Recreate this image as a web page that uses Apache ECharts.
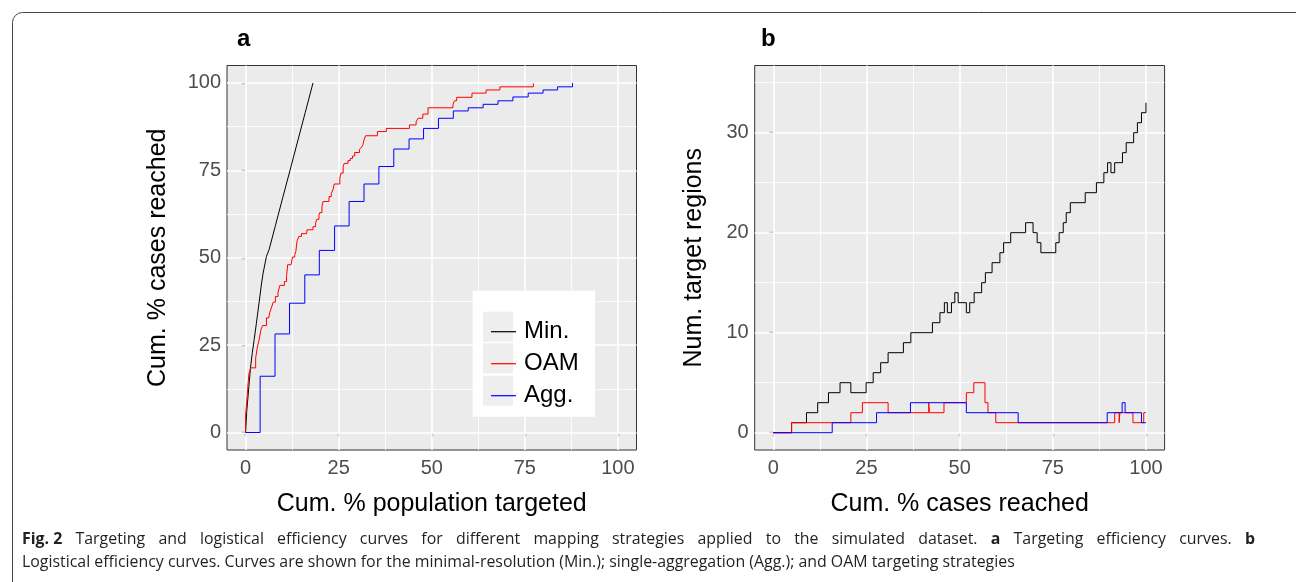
<!DOCTYPE html>
<html><head><meta charset="utf-8">
<script src="https://cdn.jsdelivr.net/npm/echarts@6/dist/echarts.min.js"></script>
<style>html,body{margin:0;padding:0;background:#fff}#c{width:1296px;height:582px}</style>
</head><body><div id="c"></div>
<script>
// ---- data ----
const seriesNames = ['Min.', 'OAM', 'Agg.'];
const seriesColors = ['#000000', '#FF0000', '#0000FF'];
// panel a: targeting efficiency (x: cum. % population targeted, y: cum. % cases reached)
const aMin = [[0,0],[0.3,6],[0.5,8.5],[1.0,14.7],[1.3,18.5],[1.8,22.8],[2.3,26.6],[2.9,31.3],[3.6,37.0],[4.3,42.8],[4.7,45.6],[5.6,50.4],[6.3,52.3],[8,59.2],[10,67.3],[12,75.3],[14,83.4],[16,91.5],[18.1,100]];
const aOAM = [[0,0],[0,5.1],[0.27,8.5],[0.54,12.3],[0.9,16.9],[1.4,18.5],[2.7,21.3],[3.1,24.1],[3.6,26.4],[4.1,29.4],[4.6,30.6],[5.6,32.8],[6.2,33.2],[6.5,34.4],[7.0,35.9],[7.4,37.3],[8.0,38.9],[8.7,40.1],[9.2,42.1],[10.4,43.2],[11.0,44.9],[11.3,48.0],[12.2,48.5],[12.6,50.2],[13.2,50.9],[13.5,51.8],[13.8,54.7],[14.3,56.1],[15.0,56.9],[16.4,57.2],[16.5,58.0],[18.1,58.9],[18.8,59.9],[19.1,61.0],[19.7,62.2],[19.9,62.9],[20.5,64.7],[20.8,66.1],[22.4,67.5],[23.0,68.3],[23.5,69.6],[23.8,71.1],[25.3,72.8],[25.6,74.2],[26.2,76.1],[26.5,77.0],[27.5,77.8],[28.1,78.4],[28.7,79.1],[29.3,80.1],[30.6,81.0],[31.1,81.6],[31.5,82.3],[31.8,83.7],[32.2,84.9],[35.4,86.1],[37.8,87.0],[44.0,88.0],[45.8,88.9],[46.3,89.9],[47.6,91.1],[49.0,92.9],[55.7,93.9],[56.1,94.9],[56.7,95.9],[60.8,97.1],[64.6,98.0],[68.3,98.9],[77.3,99.9]];
const aAgg = [[0,0],[3.9,16.1],[7.9,28.2],[11.8,37.0],[15.9,45.1],[19.8,52.1],[23.9,59.1],[27.8,66.1],[31.8,71.1],[35.8,76.1],[39.8,81.1],[43.9,84.0],[47.8,87.0],[51.8,89.9],[55.8,92.0],[59.8,92.9],[63.8,93.9],[67.8,94.9],[71.8,96.0],[75.9,97.1],[79.9,98.0],[83.8,98.9],[87.8,100]];
// panel b: logistical efficiency (x: cum. % cases reached, y: num. target regions)
const bMin = [[0,0],[4.9,1],[8.9,2],[11.9,3],[14.8,4],[17.9,5],[20.8,4],[24.9,5],[26.8,6],[28.8,7],[30.8,8],[34.9,9],[36.9,10],[42.7,11],[44.7,12],[45.9,13],[46.7,12],[47.8,13],[48.7,14],[49.6,13],[51.8,12],[52.7,13],[53.9,14],[55.9,15],[56.9,16],[58.7,17],[60.8,18],[61.8,19],[63.7,20],[67.7,21],[69.7,20],[70.8,19],[71.8,18],[75.8,19],[76.7,20],[77.8,21],[78.6,22],[79.7,23],[83.7,24],[86.7,25],[88.7,26],[89.7,27],[90.6,26],[91.6,27],[93.7,28],[94.7,29],[96.7,30],[97.7,31],[98.8,32],[100,33]];
const bOAM = [[0,0],[4.9,1],[20.8,2],[23.9,3],[30.8,2],[41.7,3],[41.9,2],[45.8,3],[51.8,4],[53.8,5],[56.8,3],[57.6,2],[59.7,1],[91.6,2],[92.8,1],[93.0,2],[96.5,1],[99.4,2],[100,2]];
const bAgg = [[0,0],[15.8,1],[27.7,2],[36.8,3],[51.8,2],[65.7,1],[89.6,2],[93.6,3],[94.4,2],[98.8,1],[100,1]];
// ticks
const aXTicks = [0,25,50,75,100];
const aYTicks = [0,25,50,75,100];
const aMinorTicks = [12.5,37.5,62.5,87.5];
const bXTicks = [0,25,50,75,100];
const bYTicks = [0,10,20,30];
const bYMinor = [5,15,25,35];
// caption text
const captionLine1 = [['Fig. 2', true], ['Targeting', false], ['and', false], ['logistical', false], ['efficiency', false], ['curves', false], ['for', false], ['different', false], ['mapping', false], ['strategies', false], ['applied', false], ['to', false], ['the', false], ['simulated', false], ['dataset.', false], ['a', true], ['Targeting', false], ['efficiency', false], ['curves.', false], ['b', true]];
const captionLine2 = 'Logistical efficiency curves. Curves are shown for the minimal-resolution (Min.); single-aggregation (Agg.); and OAM targeting strategies';

// ---- chart ----
const chart = echarts.init(document.getElementById('c'), null, {renderer: 'canvas'});
const FONT = '"Liberation Sans", Arial, sans-serif';
const CAP_FONT = '"Open Sans", sans-serif';
const CAP_SIZE = 15.9;

// justify caption line 1 to the full text width
function justified(words, totalWidth) {
  const ctx = document.createElement('canvas').getContext('2d');
  let sum = 0;
  words.forEach(([w, b]) => { ctx.font = (b ? 'bold ' : '') + CAP_SIZE + 'px ' + CAP_FONT; sum += ctx.measureText(w).width; });
  const gap = (totalWidth - sum) / (words.length - 1);
  return words.map(([w, b]) => '{' + (b ? 'b' : 'n') + '|' + w + '}').join('{g|}').concat('') + '|' + gap;
}
const j = justified(captionLine1, 1233);
const capGap = parseFloat(j.split('|').pop());
const capText1 = j.slice(0, j.lastIndexOf('|'));

function gridLines(xMajor, xMinor, yMajor, yMinor) {
  const d = [];
  xMinor.forEach(v => d.push({xAxis: v, lineStyle: {width: 0.8}}));
  yMinor.forEach(v => d.push({yAxis: v, lineStyle: {width: 0.8}}));
  xMajor.forEach(v => d.push({xAxis: v, lineStyle: {width: 1.6}}));
  yMajor.forEach(v => d.push({yAxis: v, lineStyle: {width: 1.6}}));
  return d;
}
function gridSeries(idx, xMajor, xMinor, yMajor, yMinor) {
  return {
    type: 'line', xAxisIndex: idx, yAxisIndex: idx, data: [], z: 1, silent: true,
    markLine: {silent: true, z: 1, symbol: ['none','none'], label: {show: false},
      lineStyle: {color: '#ffffff', type: 'solid'}, animation: false,
      emphasis: {disabled: true},
      data: gridLines(xMajor, xMinor, yMajor, yMinor)}
  };
}
function dataSeries(idx, k, data, step) {
  return {
    name: seriesNames[k], type: 'line', xAxisIndex: idx, yAxisIndex: idx,
    data: data, step: step, showSymbol: false, symbol: 'none', z: 10 + k,
    lineStyle: {width: 1, color: seriesColors[k]}, itemStyle: {color: seriesColors[k]},
    emphasis: {disabled: true}, animation: false
  };
}
function valueAxis(idx, min, max, ticks, pos, name, gap, margin) {
  return {
    type: 'value', gridIndex: idx, min: min, max: max, position: pos,
    name: name, nameLocation: 'middle', nameGap: gap,
    nameTextStyle: {fontFamily: FONT, fontSize: 25, color: '#000'},
    axisLine: {show: false},
    axisTick: {show: true, customValues: ticks, length: 4, lineStyle: {color: '#333', width: 1.2}},
    axisLabel: {show: true, customValues: ticks, fontFamily: FONT, fontSize: 20, color: '#4d4d4d', margin: margin},
    splitLine: {show: false}, minorTick: {show: false}, minorSplitLine: {show: false}
  };
}

const option = {
  backgroundColor: '#ffffff',
  animation: false,
  grid: [
    {left: 227, top: 65.5, width: 409.5, height: 384.5, show: true, backgroundColor: '#EBEBEB', borderColor: '#333', borderWidth: 1},
    {left: 754.7, top: 65.5, width: 409.9, height: 384.5, show: true, backgroundColor: '#EBEBEB', borderColor: '#333', borderWidth: 1}
  ],
  xAxis: [
    valueAxis(0, -5, 105, aXTicks, 'bottom', 'Cum. % population targeted', 42, 8),
    valueAxis(1, -5, 105, bXTicks, 'bottom', 'Cum. % cases reached', 42, 8)
  ],
  yAxis: [
    valueAxis(0, -5, 105, aYTicks, 'left', 'Cum. % cases reached', 56, 6),
    valueAxis(1, -1.73, 36.72, bYTicks, 'left', 'Num. target regions', 48, 6)
  ],
  legend: {
    show: true, orient: 'vertical', left: 486, top: 311.7, z: 20,
    data: seriesNames, icon: 'rect', itemWidth: 25, itemHeight: 1.2, itemGap: 2,
    selectedMode: false,
    textStyle: {fontFamily: FONT, fontSize: 24, color: '#000', lineHeight: 30, height: 30, padding: [0, 0, 0, 3]}
  },
  graphic: [
    {type: 'rect', z: 15, shape: {x: 472.7, y: 290.7, width: 122.3, height: 126}, style: {fill: '#ffffff'}},
    {type: 'rect', z: 16, shape: {x: 483, y: 311.7, width: 30, height: 30}, style: {fill: '#EEEEEE'}},
    {type: 'rect', z: 16, shape: {x: 483, y: 343.3, width: 30, height: 30}, style: {fill: '#EEEEEE'}},
    {type: 'rect', z: 16, shape: {x: 483, y: 375.7, width: 30, height: 30}, style: {fill: '#EEEEEE'}},
    {type: 'rect', z: 0, shape: {x: 12.5, y: 12.5, width: 1300, height: 620, r: 10}, style: {fill: 'none', stroke: '#444', lineWidth: 1}},
    {type: 'text', z: 16, x: 237, y: 27, style: {text: 'a', font: 'bold 24px "Liberation Sans", Arial, sans-serif', fill: '#000'}},
    {type: 'text', z: 16, x: 761, y: 27, style: {text: 'b', font: 'bold 24px "Liberation Sans", Arial, sans-serif', fill: '#000'}},
    {type: 'text', z: 16, x: 22, y: 531, style: {
      text: capText1,
      font: CAP_SIZE + 'px ' + CAP_FONT, fill: '#231f20',
      rich: {
        b: {fontWeight: 'bold', fontFamily: CAP_FONT, fontSize: CAP_SIZE, fill: '#231f20'},
        n: {fontFamily: CAP_FONT, fontSize: CAP_SIZE, fill: '#231f20'},
        g: {width: capGap, fontSize: CAP_SIZE}
      }}},
    {type: 'text', z: 16, x: 22, y: 554, style: {
      text: captionLine2,
      font: CAP_SIZE + 'px ' + CAP_FONT, fill: '#231f20'}}
  ],
  series: [
    gridSeries(0, aXTicks, aMinorTicks, aYTicks, aMinorTicks),
    gridSeries(1, bXTicks, aMinorTicks, bYTicks, bYMinor),
    dataSeries(0, 0, aMin, false),
    dataSeries(0, 1, aOAM, 'end'),
    dataSeries(0, 2, aAgg, 'end'),
    dataSeries(1, 0, bMin, 'end'),
    dataSeries(1, 1, bOAM, 'end'),
    dataSeries(1, 2, bAgg, 'end')
  ]
};
chart.setOption(option);
</script></body></html>
